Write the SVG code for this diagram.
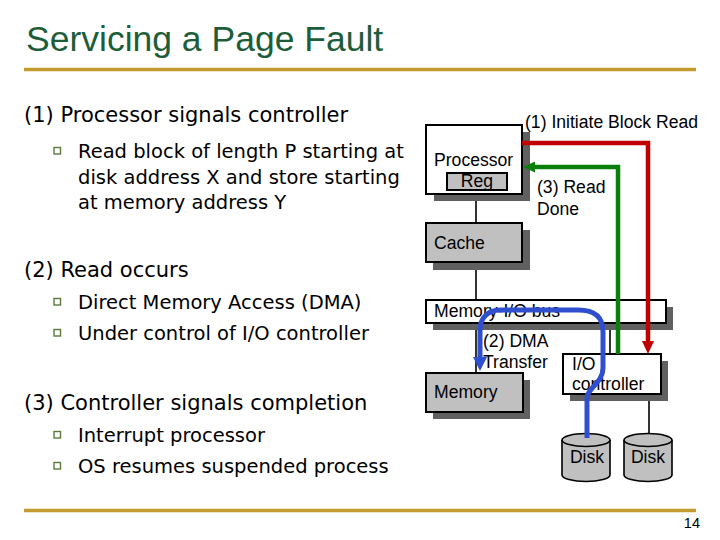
<svg xmlns="http://www.w3.org/2000/svg" width="720" height="540" viewBox="0 0 720 540">
<defs>
<style>
.title{font-family:"Liberation Sans",Arial,sans-serif;font-size:35.5px;fill:#1d5e3a}
.h{font-family:"DejaVu Sans",Verdana,sans-serif;font-size:21px;fill:#000}
.b{font-family:"DejaVu Sans",Verdana,sans-serif;font-size:19.5px;fill:#000}
.t{font-family:"Liberation Sans",Arial,sans-serif;font-size:17.6px;fill:#000}
.rule{stroke:#c39b2e;stroke-width:3.5}
.sq{fill:#fff;stroke:#5b7a3c;stroke-width:1.4}
.sh{fill:#606060}
.box{stroke:#000;stroke-width:2}
.white{fill:#fff}
.gray{fill:#c0c0c0}
.conn{stroke:#000;stroke-width:1.6;fill:none}
.disk{fill:#c0c0c0;stroke:#000;stroke-width:1.6}
</style>
<marker id="arR" markerUnits="userSpaceOnUse" markerWidth="14" markerHeight="14" viewBox="0 0 14 14" refX="0" refY="7" orient="auto"><path d="M0,1 L13,7 L0,13 z" fill="#c00000"/></marker>
<marker id="arG" markerUnits="userSpaceOnUse" markerWidth="14" markerHeight="14" viewBox="0 0 14 14" refX="0" refY="7" orient="auto"><path d="M0,1.5 L12,7 L0,12.5 z" fill="#0a800a"/></marker>
<marker id="arB" markerUnits="userSpaceOnUse" markerWidth="16" markerHeight="16" viewBox="0 0 16 16" refX="0" refY="8" orient="auto"><path d="M0,1 L14,8 L0,15 z" fill="#2f4fcf"/></marker>
</defs>
<rect width="720" height="540" fill="#fff"/>

<g id="title">
<text class="title" x="26" y="51">Servicing a Page Fault</text>
<line class="rule" x1="24" y1="69.5" x2="696" y2="69.5"/>
</g>

<g id="text-left">
<text class="h" x="24" y="122">(1) Processor signals controller</text>
<rect class="sq" x="54" y="147.5" width="6.5" height="6.5"/>
<text class="b" x="78" y="158">Read block of length P starting at</text>
<text class="b" x="78" y="184">disk address X and store starting</text>
<text class="b" x="78" y="209">at memory address Y</text>
<text class="h" x="24" y="277">(2) Read occurs</text>
<rect class="sq" x="54" y="298.5" width="6.5" height="6.5"/>
<text class="b" x="78" y="309">Direct Memory Access (DMA)</text>
<rect class="sq" x="54" y="329.5" width="6.5" height="6.5"/>
<text class="b" x="78" y="340">Under control of I/O controller</text>
<text class="h" x="24" y="410">(3) Controller signals completion</text>
<rect class="sq" x="54" y="431.5" width="6.5" height="6.5"/>
<text class="b" x="78" y="442">Interrupt processor</text>
<rect class="sq" x="54" y="462.5" width="6.5" height="6.5"/>
<text class="b" x="78" y="473">OS resumes suspended process</text>
</g>

<g id="connectors-lines">
<line class="conn" x1="476" y1="194" x2="476" y2="223"/>
<line class="conn" x1="476" y1="262" x2="476" y2="300"/>
<line class="conn" x1="476" y1="323" x2="476" y2="373"/>
<line class="conn" x1="610" y1="323" x2="610" y2="354"/>
<line class="conn" x1="649" y1="394" x2="649" y2="434"/>
</g>

<g id="processor">
<rect class="sh" x="434" y="132" width="96" height="69"/>
<rect class="box white" x="426" y="125" width="96" height="69"/>
<text class="t" x="434" y="166">Processor</text>
<rect class="box gray" x="447" y="173" width="60" height="17" stroke-width="1.6"/>
<text class="t" x="477" y="187" text-anchor="middle">Reg</text>
</g>

<g id="cache">
<rect class="sh" x="433" y="230" width="97" height="40"/>
<rect class="box gray" x="426" y="223" width="96" height="39"/>
<text class="t" x="434" y="249">Cache</text>
</g>

<g id="bus">
<rect class="sh" x="433" y="307" width="240" height="23"/>
<rect class="box white" x="426" y="300" width="240" height="23"/>
<text class="t" x="434" y="317">Memory-I/O bus</text>
</g>

<g id="memory">
<rect class="sh" x="433" y="380" width="97" height="39"/>
<rect class="box gray" x="426" y="373" width="97" height="39"/>
<text class="t" x="434" y="398">Memory</text>
</g>

<g id="io-controller">
<rect class="sh" x="570" y="361" width="98" height="40"/>
<rect class="box white" x="563" y="354" width="98" height="40"/>
<text class="t" x="572" y="370">I/O</text>
<text class="t" x="572" y="390">controller</text>
</g>

<g id="disk1">
<path class="disk" d="M562,440 V475 A24,6.5 0 0 0 610,475 V440"/>
<ellipse class="disk" cx="586" cy="440" rx="24" ry="6.5"/>
<text class="t" x="587" y="463" text-anchor="middle">Disk</text>
</g>

<g id="disk2">
<path class="disk" d="M624,440 V475 A24,6.5 0 0 0 672,475 V440"/>
<ellipse class="disk" cx="648" cy="440" rx="24" ry="6.5"/>
<text class="t" x="648" y="463" text-anchor="middle">Disk</text>
</g>

<g id="labels">
<text class="t" x="525" y="128">(1) Initiate Block Read</text>
<text class="t" x="537" y="193">(3) Read</text>
<text class="t" x="537" y="215">Done</text>
<text class="t" x="483" y="347">(2) DMA</text>
<text class="t" x="483" y="368">Transfer</text>
</g>

<g id="connectors">
<path d="M522,143 H648 V341" fill="none" stroke="#c00000" stroke-width="4.5" marker-end="url(#arR)"/>
<path d="M618,354 V167 H535" fill="none" stroke="#0a800a" stroke-width="4.5" marker-end="url(#arG)"/>
<path d="M587,438 V398 C587,388 603,383 603,368 V332 C603,316 594,310 578,310 H500 C488,310 480,318 480,330 V357" fill="none" stroke="#2f4fcf" stroke-width="5" marker-end="url(#arB)"/>
</g>

<g id="footer">
<line class="rule" x1="24" y1="510.5" x2="696" y2="510.5" stroke-width="3"/>
<text x="700" y="528" text-anchor="end" font-family="Liberation Sans Narrow,Liberation Sans,Arial,sans-serif" font-size="14.5" fill="#000">14</text>
</g>
</svg>
